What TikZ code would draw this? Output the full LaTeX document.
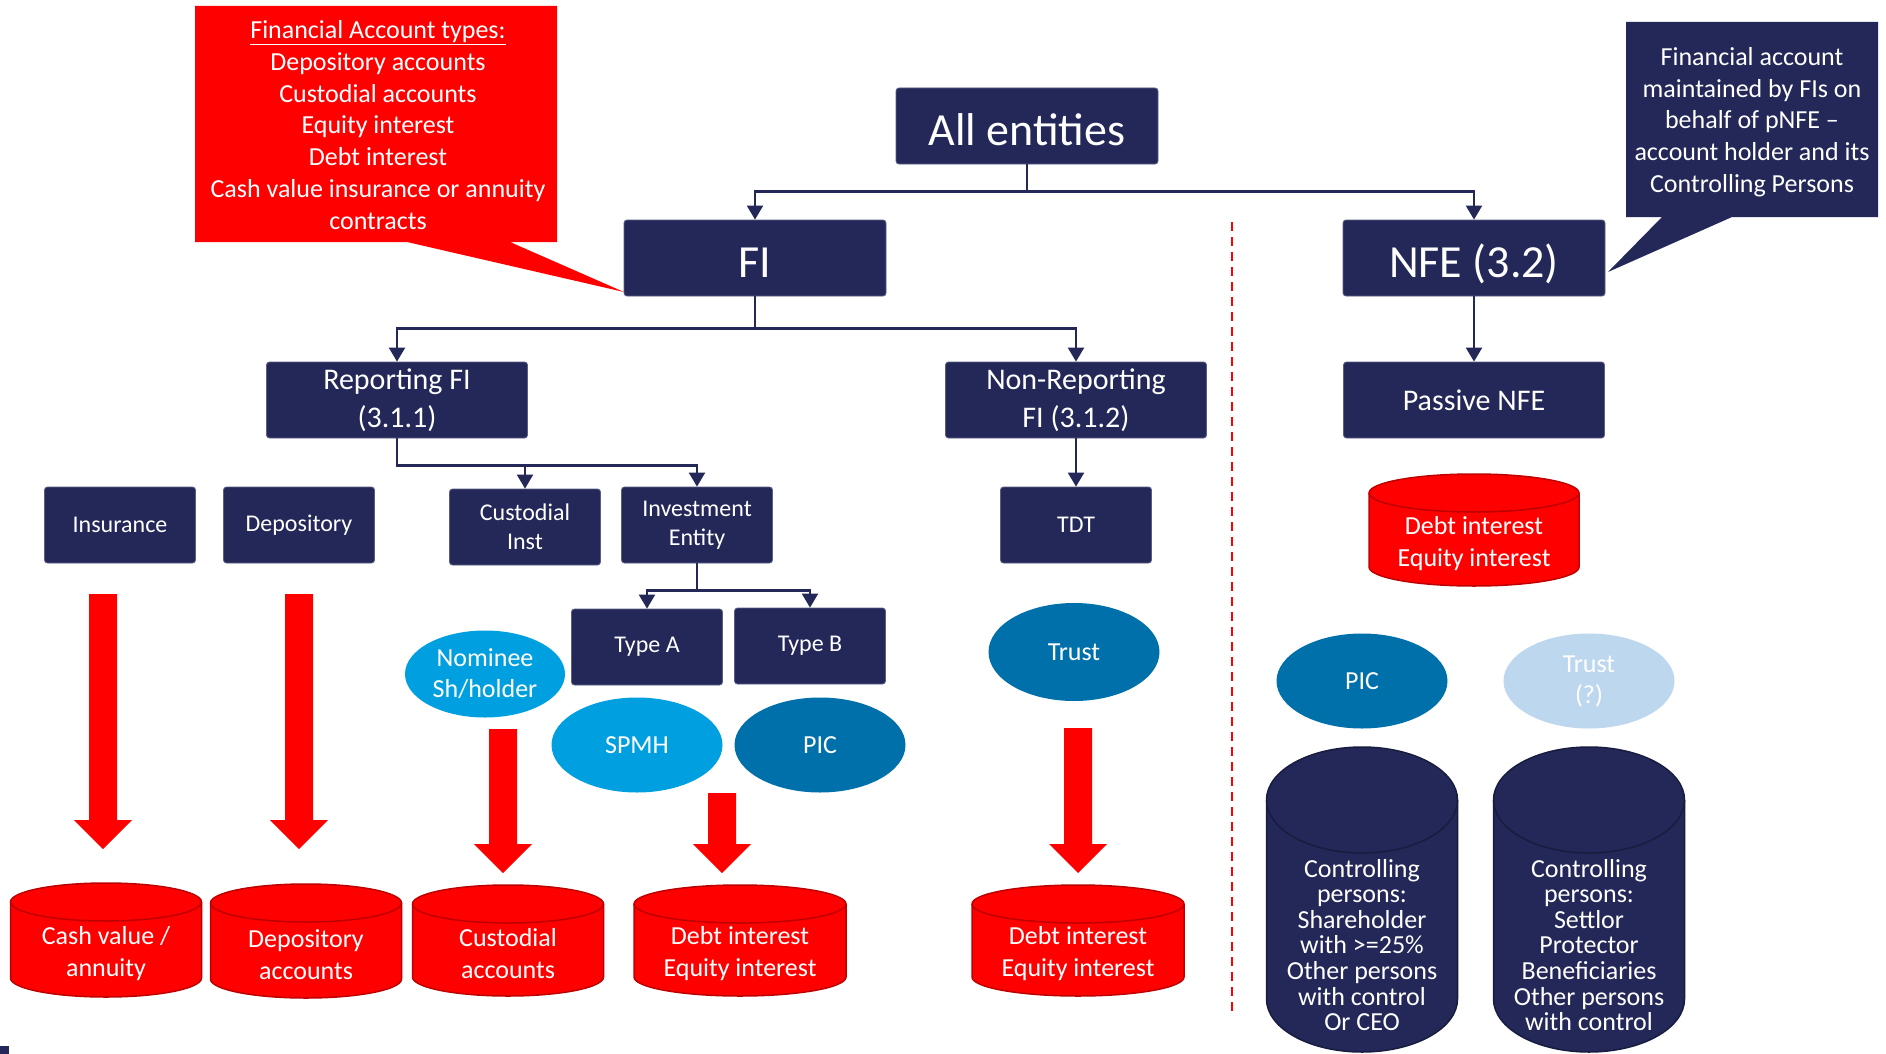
\documentclass[tikz,border=0pt]{standalone}
\usepackage{fontspec}
\setmainfont{Carlito}
\usetikzlibrary{arrows.meta,shapes.geometric}

\definecolor{navy}{RGB}{35,40,89}
\definecolor{alarm}{RGB}{255,0,0}
\definecolor{alarmrim}{RGB}{190,0,0}
\definecolor{skyblue}{RGB}{0,160,224}
\definecolor{seablue}{RGB}{0,112,170}
\definecolor{paleblue}{RGB}{189,215,238}

% drum: x, top, bottom, x radius, y radius, fill, rim
\newcommand{\drum}[7]{%
  \filldraw[fill=#6,draw=#7,line width=1.5pt]
    ({#1-#4},{#2+#5}) -- ({#1-#4},{#3-#5})
    arc[start angle=180,end angle=0,x radius=#4,y radius=#5]
    -- ({#1+#4},{#2+#5})
    arc[start angle=0,end angle=-180,x radius=#4,y radius=#5];
  \draw[#7,line width=1.5pt] ({#1-#4},{#2+#5})
    arc[start angle=180,end angle=0,x radius=#4,y radius=#5];}

% fat red arrow: x, top, tip
\newcommand{\fatdown}[3]{%
  \fill[alarm] ({#1-14},#2) -- ({#1+14},#2) -- ({#1+14},{#3-29})
    -- ({#1+29},{#3-29}) -- (#1,#3) -- ({#1-29},{#3-29})
    -- ({#1-14},{#3-29}) -- cycle;}

\begin{document}
\begin{tikzpicture}[x=1pt,y=-1pt,>={Triangle[width=16pt,length=14pt]},
  box/.style={rectangle,rounded corners=3pt,fill=navy,draw=navy!75!white,
    line width=0.8pt,text=white,align=center,inner sep=0pt},
  top box/.style={box,minimum width=262pt,minimum height=76pt,
    text height=38pt,text depth=0pt,font=\fontsize{46}{54}\selectfont},
  mid box/.style={box,minimum width=261pt,minimum height=76pt,
    font=\fontsize{30}{37}\selectfont},
  leaf box/.style={box,minimum width=151pt,minimum height=76pt,
    font=\fontsize{24}{29}\selectfont},
  blob/.style={ellipse,text=white,align=center,inner sep=0pt,
    minimum width=171pt,minimum height=95pt,font=\fontsize{26}{31}\selectfont},
  drum text/.style={text=white,align=center,font=\fontsize{26}{32}\selectfont},
  link/.style={->,draw=navy,line width=2.2pt}]

  \path[use as bounding box,fill=white] (0,0) rectangle (1886,1054);

  % callouts
  \fill[alarm] (195,6) -- (557,6) -- (557,242) -- (510,242) -- (624,292)
    -- (407,242) -- (195,242) -- cycle;
  \node[drum text,font=\fontsize{26}{31.7}\selectfont] (types) at (378,125)
    {\underline{Financial Account types:}\\Depository accounts\\Custodial accounts\\
     Equity interest\\Debt interest\\Cash value insurance or annuity\\contracts};
  \fill[navy] (1626,22) -- (1878,22) -- (1878,217) -- (1732,217) -- (1608,272)
    -- (1662,217) -- (1626,217) -- cycle;
  \node[drum text,font=\fontsize{26}{31.7}\selectfont] (pnfe) at (1752,122)
    {Financial account\\maintained by FIs on\\behalf of pNFE --\\
     account holder and its\\Controlling Persons};

  % tree of entities
  \node[top box] (all) at (1027,126) {All entities};
  \node[top box] (fi) at (755,258) {FI};
  \node[top box] (nfe) at (1474,258) {NFE (3.2)};
  \node[mid box] (rep) at (397,400) {Reporting FI\\[1pt](3.1.1)};
  \node[mid box] (nonrep) at (1076,400) {Non-Reporting\\[1pt]FI (3.1.2)};
  \node[mid box] (passive) at (1474,400) {Passive NFE};
  \node[leaf box] (ins) at (120,525) {Insurance};
  \node[leaf box] (dep) at (299,525) {Depository};
  \node[leaf box] (cust) at (525,527) {Custodial\\Inst};
  \node[leaf box] (inv) at (697,525) {Investment\\Entity};
  \node[leaf box] (tdt) at (1076,525) {TDT};
  \node[leaf box] (typea) at (647,647) {Type A};
  \node[leaf box] (typeb) at (810,646) {Type B};

  \draw[link] (all.south) -- ++(0,27) -| (fi.north);
  \draw[link] (all.south) -- ++(0,27) -| (nfe.north);
  \draw[link] (fi.south) -- ++(0,32) -| (rep.north);
  \draw[link] (fi.south) -- ++(0,32) -| (nonrep.north);
  \draw[link] (rep.south) -- ++(0,27) -| (cust.north);
  \draw[link] (rep.south) -- ++(0,27) -| (inv.north);
  \draw[link] (inv.south) -- ++(0,27) -| (typea.north);
  \draw[link] (inv.south) -- ++(0,27) -| (typeb.north);
  \draw[link] (nonrep) -- (tdt);
  \draw[link] (nfe) -- (passive);

  % entity kinds
  \node[blob,fill=skyblue,minimum width=160pt,minimum height=87pt] (nominee)
    at (485,674) {Nominee\\Sh/holder};
  \node[blob,fill=skyblue] (spmh) at (637,745) {SPMH};
  \node[blob,fill=seablue] (picfi) at (820,745) {PIC};
  \node[blob,fill=seablue,minimum height=98pt] (trust) at (1074,652) {Trust};
  \node[blob,fill=seablue] (picnfe) at (1362,681) {PIC};
  \node[blob,fill=paleblue] (trustq) at (1589,681) {Trust\\(?)};

  % reportable accounts
  \fatdown{103}{594}{849}
  \fatdown{299}{594}{849}
  \fatdown{503}{729}{873}
  \fatdown{722}{793}{873}
  \fatdown{1078}{728}{873}

  \drum{106}{883}{997}{95.5}{19}{alarm}{alarmrim}
  \drum{306}{884}{998}{95.5}{19}{alarm}{alarmrim}
  \drum{508}{885}{996}{95.5}{19}{alarm}{alarmrim}
  \drum{740}{885}{996}{106}{19}{alarm}{alarmrim}
  \drum{1078}{885}{996}{106}{19}{alarm}{alarmrim}
  \drum{1474}{474}{586}{105}{19}{alarm}{alarmrim}
  \drum{1362}{747}{1052}{95.5}{53}{navy}{navy!70!black}
  \drum{1589}{747}{1052}{95.5}{53}{navy}{navy!70!black}

  \node[drum text] (cashval) at (106,954) {Cash value /\\annuity};
  \node[drum text] (depacc) at (306,955) {Depository\\accounts};
  \node[drum text] (custacc) at (508,954) {Custodial\\accounts};
  \node[drum text] (fiint) at (740,954) {Debt interest\\Equity interest};
  \node[drum text] (tdtint) at (1078,954) {Debt interest\\Equity interest};
  \node[drum text] (nfeint) at (1474,544) {Debt interest\\Equity interest};
  \node[drum text,font=\fontsize{26}{25.6}\selectfont] (piccp) at (1362,945)
    {Controlling\\persons:\\Shareholder\\with >=25\%\\Other persons\\with control\\Or CEO};
  \node[drum text,font=\fontsize{26}{25.6}\selectfont] (trustcp) at (1589,945)
    {Controlling\\persons:\\Settlor\\Protector\\Beneficiaries\\Other persons\\with control};

  \draw[alarm,line width=2pt,dash pattern=on 9pt off 6pt] (1232,222) -- (1232,1014);
  \fill[navy] (0,1046) rectangle (9,1054);

\end{tikzpicture}
\end{document}
